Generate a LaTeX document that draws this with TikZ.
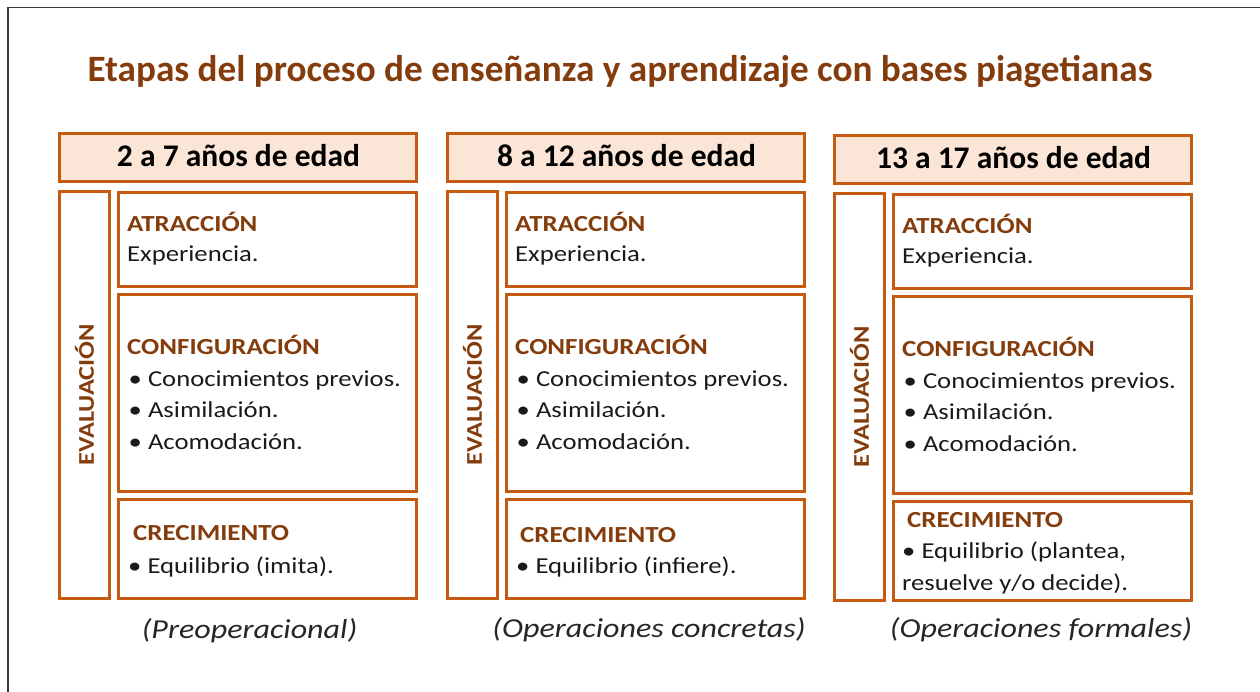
\documentclass[tikz,border=0pt]{standalone}
\usepackage{fontspec}
\setmainfont{Carlito}
\newfontfamily\widefont{Carlito}[FakeStretch=1.17]
\definecolor{orb}{HTML}{C55A11}
\definecolor{peach}{HTML}{FBE5D6}
\definecolor{brn}{HTML}{843C0C}
\definecolor{txt}{HTML}{1A1A1A}
\definecolor{ftx}{HTML}{262626}
\definecolor{frm}{HTML}{3A3A3A}
\tikzset{
  boxs/.style={draw=orb, line width=3pt, inner sep=0pt, outer sep=0pt, anchor=north west},
  hdr/.style={boxs, fill=peach},
  ttl/.style={anchor=base, inner sep=0pt, font=\fontsize{37.2}{40}\selectfont\bfseries, text=brn},
  hdrtxt/.style={anchor=base, inner sep=0pt, font=\fontsize{31.5}{34}\selectfont\bfseries, text=black},
  lbl/.style={anchor=base west, inner sep=0pt, font=\widefont\fontsize{23}{26}\selectfont\bfseries, text=brn},
  body/.style={anchor=base west, inner sep=0pt, font=\widefont\fontsize{22.8}{26}\selectfont, text=txt},
  foot/.style={anchor=base, inner sep=0pt, font=\widefont\fontsize{27.4}{30}\selectfont\itshape, text=ftx},
  evl/.style={rotate=90, inner sep=0pt, font=\widefont\fontsize{22.5}{26}\selectfont\bfseries, text=brn}
}
\newcommand\stagecol[4]{%
  \begin{scope}[shift={(#1,#2)}]
    \node[hdr, minimum width=357pt, minimum height=48pt] (#3h) at (0,133.5) {};
    \node[hdrtxt] (#3ht) at (179,167) {#4};
    \node[boxs, minimum width=50pt, minimum height=407pt] (#3e) at (0,191.5) {};
    \node[evl] (#3et) at (#3e.center) {EVALUACIÓN};
    \node[boxs, minimum width=298.5pt, minimum height=93.5pt] (#3a) at (58.5,193) {};
    \node[lbl] (#3al) at (67.5,232) {ATRACCIÓN};
    \node[body] (#3ab) at (67.5,262) {Experiencia.};
    \node[boxs, minimum width=298.5pt, minimum height=196.5pt] (#3c) at (58.5,295) {};
    \node[lbl] (#3cl) at (67.5,354) {CONFIGURACIÓN};
    \node[body] (#3c1) at (69,386) {• Conocimientos previos.};
    \node[body] (#3c2) at (69,417) {• Asimilación.};
    \node[body] (#3c3) at (69,449) {• Acomodación.};
    \node[boxs, minimum width=298.5pt, minimum height=99pt] (#3g) at (58.5,499.5) {};
  \end{scope}}
\begin{document}
\begin{tikzpicture}[x=1pt,y=-1pt]
  \useasboundingbox (0,0) rectangle (1260,692);
  \coordinate (fbl) at (8,692);
  \coordinate (ftl) at (8,7.5);
  \coordinate (ftr) at (1260,7.5);
  \draw[frm, line width=1.5pt] (fbl) -- (ftl) -- (ftr);
  \node[ttl] (title) at (620,82) {Etapas del proceso de enseñanza y aprendizaje con bases piagetianas};
  \stagecol{59.5}{0}{a}{2 a 7 años de edad}
  \stagecol{447.5}{0}{b}{8 a 12 años de edad}
  \stagecol{834.5}{2}{c}{13 a 17 años de edad}
  \node[lbl] (agl) at (133,540) {CRECIMIENTO};
  \node[body] (agb) at (128,573) {• Equilibrio (imita).};
  \node[lbl] (bgl) at (520,542) {CRECIMIENTO};
  \node[body] (bgb) at (516,573) {• Equilibrio (infiere).};
  \node[lbl] (cgl) at (907,527) {CRECIMIENTO};
  \node[body] (cgb) at (902,558) {• Equilibrio (plantea,};
  \node[body] (cgc) at (902,590) {resuelve y/o decide).};
  \node[foot] (af) at (249.5,638) {(Preoperacional)};
  \node[foot] (bf) at (649,637) {(Operaciones concretas)};
  \node[foot] (cf) at (1041,637) {(Operaciones formales)};
\end{tikzpicture}
\end{document}
